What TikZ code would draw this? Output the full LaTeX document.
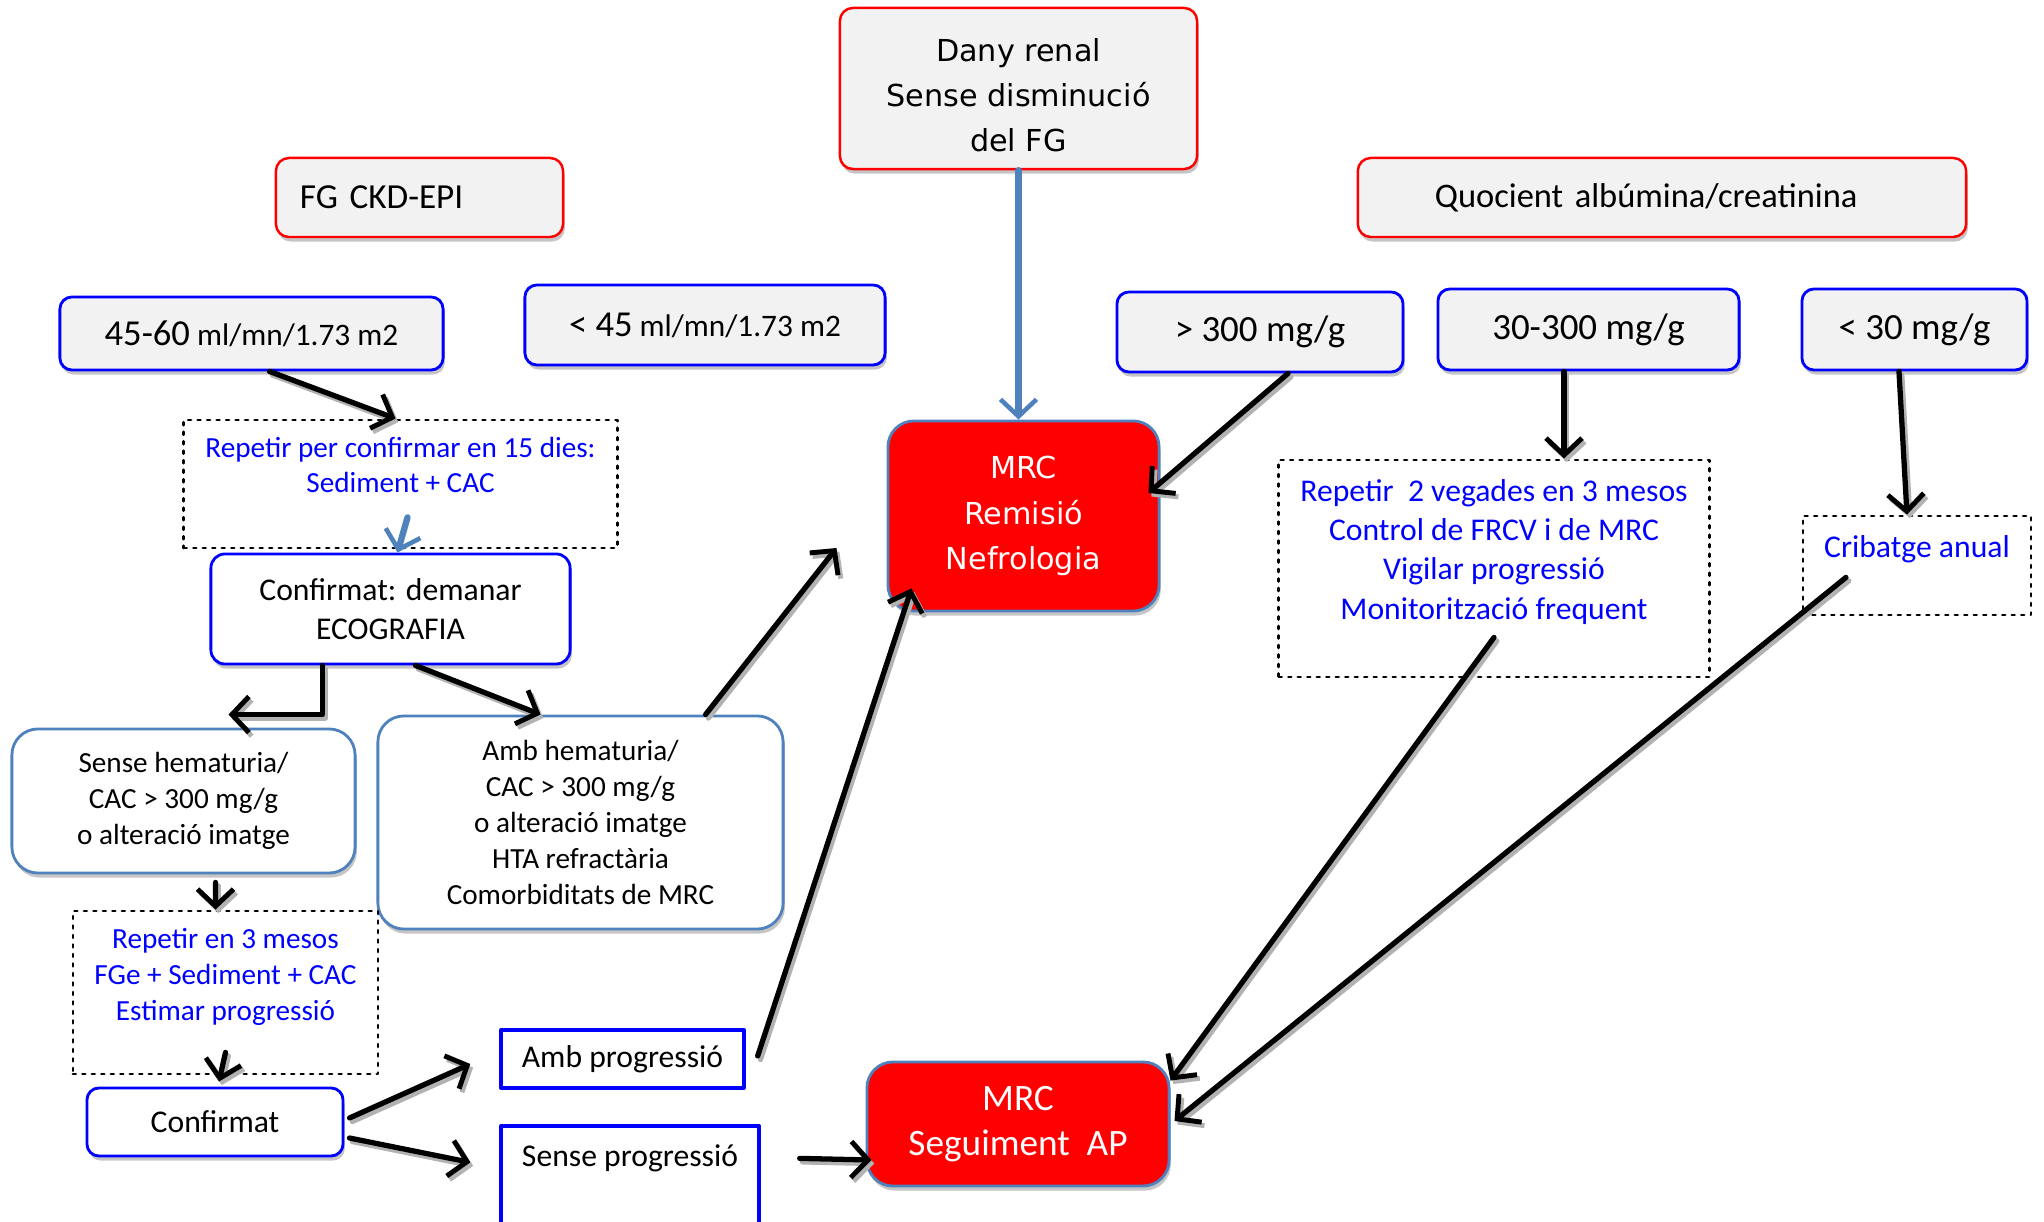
\documentclass[tikz,border=0pt]{standalone}
\usepackage{fontspec}
\setmainfont{Carlito}
\newfontfamily\verdfont{DejaVu Sans}
\usetikzlibrary{arrows.meta,calc,shadows}

\definecolor{boxgray}{HTML}{F2F2F2}
\definecolor{steel}{HTML}{4F81BD}
\definecolor{txtblue}{HTML}{0000FF}
\definecolor{redbox}{HTML}{FF0000}

\tikzset{
  shadowed/.style={drop shadow={shadow xshift=0.5pt,shadow yshift=-1.3pt,fill=black!45}},
  headbox/.style={draw=redbox, fill=boxgray, line width=0.7pt, rounded corners=0.13cm,
    shadowed, inner sep=0pt, align=center, font=\fontsize{10}{12}\selectfont},
  rangebox/.style={draw=blue, fill=boxgray, line width=0.8pt, rounded corners=0.12cm,
    shadowed, inner sep=0pt, font=\fontsize{10.5}{12}\selectfont},
  whitebox/.style={draw=blue, fill=white, line width=0.8pt, rounded corners=0.14cm,
    shadowed, inner sep=0pt, align=center, font=\fontsize{9}{11.1}\selectfont},
  softbox/.style={draw=steel, fill=white, line width=0.8pt, rounded corners=0.26cm,
    shadowed, inner sep=0pt, align=center, font=\fontsize{8.3}{10.3}\selectfont},
  mrcbox/.style={draw=steel, fill=redbox, text=white, line width=0.8pt, rounded corners=0.26cm,
    shadowed, inner sep=0pt, align=center},
  dotbox/.style={draw=black, line width=0.8pt, dash pattern=on 0.8pt off 1.9pt, inner sep=0pt},
  squarebox/.style={draw=blue, line width=0.9pt, inner sep=0pt, font=\fontsize{9}{11}\selectfont},
  bluetext/.style={text=txtblue, inner sep=0pt, align=center},
  arr/.style={-{Straight Barb[length=1.7mm,width=3.6mm,line width=1.4pt]}, line width=1.5pt,
    preaction={draw=black!30, line width=1.5pt, transform canvas={shift={(0.8pt,-1pt)}}}},
  bluearr/.style={-{Straight Barb[length=1.7mm,width=3.6mm,line width=1.3pt]}, line width=1.8pt, draw=steel},
}

\begin{document}
\begin{tikzpicture}[x=0.01cm, y=-0.01cm, line cap=round, line join=round]

\useasboundingbox (0,0) rectangle (2044,1222);

% ----------------------------
% HEADERS
% ----------------------------
\node[headbox, minimum width=3.57cm, minimum height=1.61cm,
  font=\verdfont\fontsize{8.6}{12.8}\selectfont] (dany) at (1018.5,88.5)
  {\rule{0pt}{10.4pt}Dany renal\\Sense disminució\\del FG};
\node[headbox, minimum width=2.87cm, minimum height=0.79cm,
  text width=2.39cm, inner xsep=0.24cm, align=left] (fg) at (419.5,197.5) {FG CKD-EPI};
\node[headbox, minimum width=6.08cm, minimum height=0.79cm, font=\fontsize{9.8}{12}\selectfont,
  text width=4.54cm, inner xsep=0.77cm, align=left] (quo) at (1662,197.5)
  {Quocient albúmina/creatinina};

% ----------------------------
% RANGES
% ----------------------------
\node[rangebox, minimum width=3.83cm, minimum height=0.73cm, font=\fontsize{8.9}{11}\selectfont]
  (r4560) at (251.5,333.5) {{\fontsize{10.4}{12}\selectfont 45-60} ml/mn/1.73 m2};
\node[rangebox, minimum width=3.60cm, minimum height=0.80cm, font=\fontsize{8.9}{11}\selectfont]
  (r45) at (705,325) {{\fontsize{10.4}{12}\selectfont < 45} ml/mn/1.73 m2};
\node[rangebox, minimum width=2.86cm, minimum height=0.80cm] (a300) at (1260,332) {> 300 mg/g};
\node[rangebox, minimum width=3.01cm, minimum height=0.81cm] (a30300) at (1588.5,329.5) {30-300 mg/g};
\node[rangebox, minimum width=2.25cm, minimum height=0.81cm] (a30) at (1914.5,329.5) {< 30 mg/g};

% ----------------------------
% LEFT BRANCH
% ----------------------------
\node[dotbox, minimum width=4.33cm, minimum height=1.28cm] (rep15) at (400.5,484) {};
\node[bluetext, anchor=north, font=\fontsize{8.3}{10}\selectfont] (rep15txt)
  at ([yshift=-0.18cm]rep15.north) {Repetir per confirmar en 15 dies:\\Sediment + CAC};

\node[whitebox, minimum width=3.59cm, minimum height=1.10cm] (eco) at (390.5,609)
  {Confirmat: demanar\\ECOGRAFIA};

\node[softbox, minimum width=3.43cm, minimum height=1.44cm] (sense) at (183.5,801)
  {Sense hematuria/\\CAC > 300 mg/g\\o alteració imatge};
\node[softbox, minimum width=4.05cm, minimum height=2.13cm] (amb) at (580.5,822.5)
  {Amb hematuria/\\CAC > 300 mg/g\\o alteració imatge\\HTA refractària\\Comorbiditats de MRC};

\node[dotbox, minimum width=3.05cm, minimum height=1.63cm] (rep3) at (225.5,992.5) {};
\node[bluetext, anchor=north, font=\fontsize{8.3}{10.2}\selectfont] (rep3txt)
  at ([yshift=-0.18cm]rep3.north) {Repetir en 3 mesos\\FGe + Sediment + CAC\\Estimar progressió};

\node[whitebox, minimum width=2.56cm, minimum height=0.68cm, rounded corners=0.12cm]
  (conf) at (215,1122) {Confirmat};

\node[squarebox, minimum width=2.43cm, minimum height=0.58cm] (ambp) at (622.5,1059) {Amb progressió};
\node[squarebox, minimum width=2.58cm, minimum height=1.40cm] (sensep) at (630,1196) {};
\node[inner sep=0pt, anchor=north, font=\fontsize{9}{11}\selectfont] (senseptxt)
  at ([yshift=-0.2cm]sensep.north) {Sense progressió};

% ----------------------------
% RIGHT BRANCH
% ----------------------------
\node[dotbox, minimum width=4.30cm, minimum height=2.17cm] (rep2) at (1494,568.5) {};
\node[bluetext, anchor=north, font=\fontsize{9}{11.2}\selectfont] (rep2txt)
  at ([yshift=-0.2cm]rep2.north)
  {Repetir~ 2 vegades en 3 mesos\\Control de FRCV i de MRC\\Vigilar progressió\\Monitorització frequent};

\node[dotbox, minimum width=2.28cm, minimum height=0.99cm] (crib) at (1917,565.5) {};
\node[bluetext, anchor=north, font=\fontsize{9}{11}\selectfont] (cribtxt)
  at ([yshift=-0.2cm]crib.north) {Cribatge anual};

% ----------------------------
% OUTCOMES
% ----------------------------
\node[mrcbox, minimum width=2.71cm, minimum height=1.90cm,
  font=\verdfont\fontsize{8.6}{12.9}\selectfont] (remis) at (1023.5,516)
  {MRC\\Remisió\\Nefrologia};
\node[mrcbox, minimum width=3.02cm, minimum height=1.24cm,
  font=\fontsize{10.6}{13}\selectfont] (segap) at (1018,1124)
  {MRC\\Seguiment~ AP};

% ----------------------------
% ARROWS
% ----------------------------
\draw[bluearr] (dany.south) -- (dany.south |- remis.north);
\draw[bluearr] ([xshift=0.07cm,yshift=0.32cm]rep15.south) -- ([xshift=0.07cm]eco.north);

\draw[arr] ([xshift=0.18cm]r4560.south) -- ([xshift=-0.05cm]rep15.north);
\draw[arr] ([xshift=-0.68cm]eco.south) |- ([xshift=0.45cm,yshift=0.13cm]sense.north);
\draw[arr] ([xshift=0.25cm]eco.south) -- ([xshift=-0.4cm]amb.north);
\draw[arr] ([xshift=1.25cm]amb.north) -- ([xshift=-0.5cm,yshift=-0.32cm]remis.west);
\draw[arr] ([xshift=0.32cm,yshift=-0.08cm]sense.south) -- ([xshift=-0.1cm]rep3.north);
\draw[arr] ([yshift=0.23cm]rep3.south) -- ([xshift=0.04cm,yshift=0.05cm]conf.north);
\draw[arr] ([xshift=0.05cm,yshift=0.04cm]conf.east) -- ([xshift=-0.29cm,yshift=-0.05cm]ambp.west);
\draw[arr] ([xshift=0.05cm,yshift=-0.16cm]conf.east) -- ([xshift=-0.29cm,yshift=-0.38cm]sensep.north west);
\draw[arr] ([xshift=0.12cm,yshift=0.03cm]ambp.east) -- ([xshift=0.25cm,yshift=0.24cm]remis.south west);
\draw[arr] ([xshift=0.39cm,yshift=-0.34cm]sensep.north east) -- ([xshift=0.06cm,yshift=-0.36cm]segap.west);

\draw[arr] ([xshift=0.28cm]a300.south) -- ([xshift=-0.12cm,yshift=0.23cm]remis.east);
\draw[arr] ([xshift=-0.245cm]a30300.south) -- ([xshift=-0.245cm]a30300.south |- rep2.north);
\draw[arr] ([xshift=-0.155cm]a30.south) -- ([xshift=-0.1cm]crib.north);
\draw[arr] ([yshift=0.41cm]rep2.south) -- ([yshift=-0.2cm]segap.north east);
\draw[arr] ([xshift=-0.71cm,yshift=0.39cm]crib.south) -- ([xshift=0.04cm,yshift=0.03cm]segap.east);

\end{tikzpicture}
\end{document}
